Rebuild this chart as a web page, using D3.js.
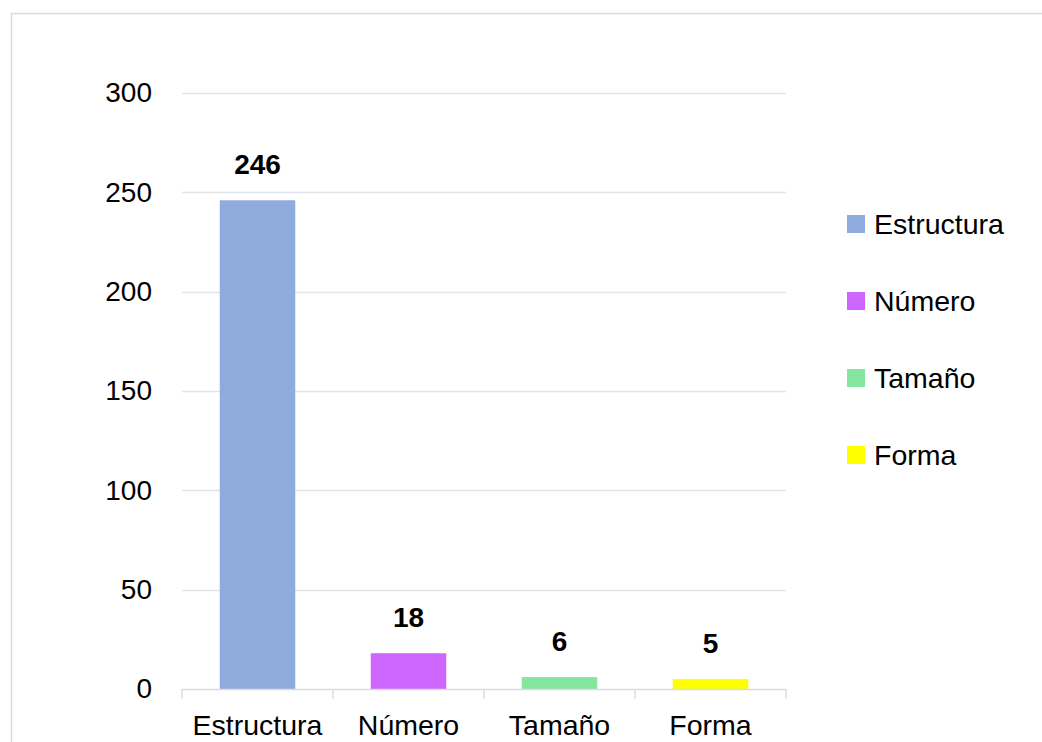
<!DOCTYPE html>
<html>
<head>
<meta charset="utf-8">
<script src="https://cdn.jsdelivr.net/npm/d3@7"></script>
<style>
  html, body { margin: 0; padding: 0; background: #fff; }
  svg { display: block; font-family: "Liberation Sans", Arial, sans-serif; }
</style>
</head>
<body>
<svg id="chart" width="1042" height="742"></svg>
<script>
// Category counts
const categories = ["Estructura", "Número", "Tamaño", "Forma"];
const values = [246, 18, 6, 5];
const colors = ["#8faadc", "#cc66ff", "#85e69f", "#ffff00"];
const yTicks = [0, 50, 100, 150, 200, 250, 300];

const svg = d3.select("#chart");
const W = 1042, H = 742;
const plot = { left: 182, right: 786, top: 93, bottom: 689 };

// Chart frame
svg.append("rect")
  .attr("x", 11.5).attr("y", 13.5)
  .attr("width", W + 10).attr("height", H + 10)
  .attr("fill", "#fff").attr("stroke", "#d9dce3").attr("stroke-width", 1.5);

const x = d3.scaleBand().domain(categories)
  .range([plot.left, plot.right]).paddingInner(0.5).paddingOuter(0.25);
const y = d3.scaleLinear().domain([0, 300]).range([plot.bottom, plot.top]);

// Gridlines
svg.append("g").selectAll("line").data(yTicks.filter(t => t > 0)).join("line")
  .attr("x1", plot.left).attr("x2", plot.right)
  .attr("y1", d => Math.round(y(d)) + 0.5).attr("y2", d => Math.round(y(d)) + 0.5)
  .attr("stroke", "#e1e4ea").attr("stroke-width", 1.5);

// Y axis labels
const yAxis = d3.axisLeft(y).tickValues(yTicks).tickSize(0).tickPadding(30);
const gy = svg.append("g").attr("transform", `translate(${plot.left},0)`).call(yAxis);
gy.select(".domain").remove();
gy.selectAll("text").attr("font-size", 28).attr("fill", "#000")
  .attr("font-family", "'Liberation Sans', Arial, sans-serif");

// Bars
svg.append("g").selectAll("rect").data(values).join("rect")
  .attr("x", (d, i) => x(categories[i]))
  .attr("width", x.bandwidth())
  .attr("y", d => y(d))
  .attr("height", d => y(0) - y(d))
  .attr("fill", (d, i) => colors[i]);

// X axis with category boundary ticks
const bounds = d3.range(categories.length + 1).map(i => plot.left + i * x.step());
svg.append("line")
  .attr("x1", plot.left).attr("x2", plot.right)
  .attr("y1", plot.bottom + 0.5).attr("y2", plot.bottom + 0.5)
  .attr("stroke", "#d9dce3").attr("stroke-width", 1.5);
svg.append("g").selectAll("line").data(bounds).join("line")
  .attr("x1", d => d).attr("x2", d => d)
  .attr("y1", plot.bottom).attr("y2", plot.bottom + 10)
  .attr("stroke", "#d9dce3").attr("stroke-width", 1.5);
svg.append("g").selectAll("text").data(categories).join("text")
  .attr("x", d => x(d) + x.bandwidth() / 2)
  .attr("y", 735)
  .attr("text-anchor", "middle")
  .attr("font-size", 28.5).attr("fill", "#000")
  .text(d => d);

// Value labels
svg.append("g").selectAll("text").data(values).join("text")
  .attr("x", (d, i) => x(categories[i]) + x.bandwidth() / 2)
  .attr("y", d => y(d) - 26)
  .attr("text-anchor", "middle")
  .attr("font-size", 28).attr("font-weight", "bold").attr("fill", "#000")
  .text(d => d);

// Legend
const legend = svg.append("g").selectAll("g").data(categories).join("g")
  .attr("transform", (d, i) => `translate(847, ${224 + i * 77})`);
legend.append("rect")
  .attr("x", 0).attr("y", -9).attr("width", 18).attr("height", 18)
  .attr("fill", (d, i) => colors[i]);
legend.append("text")
  .attr("x", 27).attr("y", 10)
  .attr("font-size", 28.5).attr("fill", "#000")
  .text(d => d);
</script>
</body>
</html>
